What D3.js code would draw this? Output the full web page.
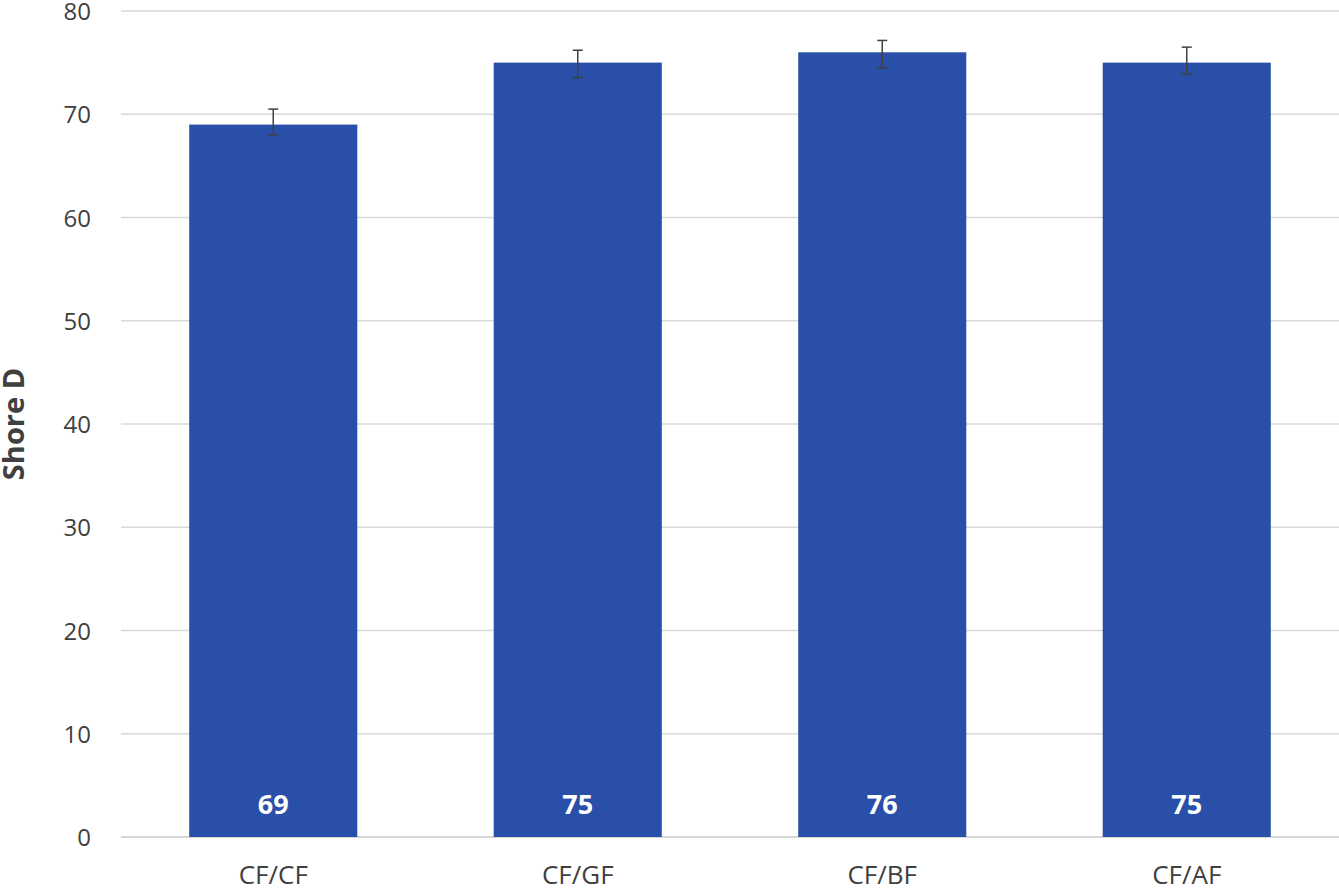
<!DOCTYPE html>
<html><head><meta charset="utf-8">
<script src="https://cdn.jsdelivr.net/npm/d3@7"></script>
<style>body{margin:0;background:#fff}svg{display:block}</style>
</head><body>
<svg id="c" width="1339" height="892"></svg>
<script>
const categories = ["CF/CF", "CF/GF", "CF/BF", "CF/AF"];
const values = [69, 75, 76, 75];
const errPlus = [1.5, 1.2, 1.15, 1.5];
const errMinus = [1.0, 1.45, 1.5, 1.1];
const yTicks = [0, 10, 20, 30, 40, 50, 60, 70, 80];

const svg = d3.select("#c");
const font = "'Open Sans', 'Noto Sans', sans-serif";
const m = {l: 121, r: 0, t: 11, b: 55};
const W = 1339, H = 892;
const x = d3.scaleBand().domain(categories).range([m.l, W - m.r]).paddingInner(0.448).paddingOuter(0.224);
const y = d3.scaleLinear().domain([0, 80]).range([H - m.b, m.t]);

// gridlines
svg.append("g").selectAll("line").data(yTicks).join("line")
  .attr("x1", m.l).attr("x2", W).attr("y1", d => y(d)).attr("y2", d => y(d))
  .attr("stroke", d => d === 0 ? "#c8c8c8" : "#d9d9d9").attr("stroke-width", 1.3);

// y axis labels
const yAxis = d3.axisLeft(y).tickValues(yTicks).tickSize(0).tickPadding(0);
const ga = svg.append("g").attr("transform", `translate(${m.l - 30},0)`).call(yAxis);
ga.select(".domain").remove();
ga.selectAll("text").attr("font-family", font).attr("font-size", 24).attr("fill", "#404040").attr("dy", "0.36em");

// bars
svg.append("g").selectAll("rect").data(values).join("rect")
  .attr("x", (d, i) => x(categories[i])).attr("width", x.bandwidth())
  .attr("y", d => y(d)).attr("height", d => y(0) - y(d))
  .attr("fill", "#2a4fa8");

// error bars
const eg = svg.append("g").attr("stroke", "#404040").attr("stroke-width", 1.5);
values.forEach((v, i) => {
  const cx = x(categories[i]) + x.bandwidth() / 2;
  const yt = y(v + errPlus[i]), yb = y(v - errMinus[i]);
  eg.append("line").attr("x1", cx).attr("x2", cx).attr("y1", yt).attr("y2", yb);
  eg.append("line").attr("x1", cx - 5).attr("x2", cx + 5).attr("y1", yt).attr("y2", yt);
  eg.append("line").attr("x1", cx - 5).attr("x2", cx + 5).attr("y1", yb).attr("y2", yb);
});

// value labels
svg.append("g").selectAll("text").data(values).join("text")
  .attr("x", (d, i) => x(categories[i]) + x.bandwidth() / 2).attr("y", y(0) - 23)
  .attr("text-anchor", "middle").attr("font-family", font).attr("font-weight", "bold")
  .attr("font-size", 27).attr("fill", "#fff").text(d => d);

// x labels
const xAxis = d3.axisBottom(x).tickSize(0).tickPadding(0);
const gx = svg.append("g").attr("transform", `translate(0,${y(0) + 47})`).call(xAxis);
gx.select(".domain").remove();
gx.selectAll("text").attr("font-family", font).attr("font-size", 26).attr("fill", "#404040").attr("dy", 0).attr("y", 0);

// y title
svg.append("text").attr("transform", `translate(24,${(y(0)+y(80))/2}) rotate(-90)`)
  .attr("text-anchor", "middle").attr("font-family", font).attr("font-weight", "bold")
  .attr("font-size", 29).attr("fill", "#404040").text("Shore D");
</script>
</body></html>
